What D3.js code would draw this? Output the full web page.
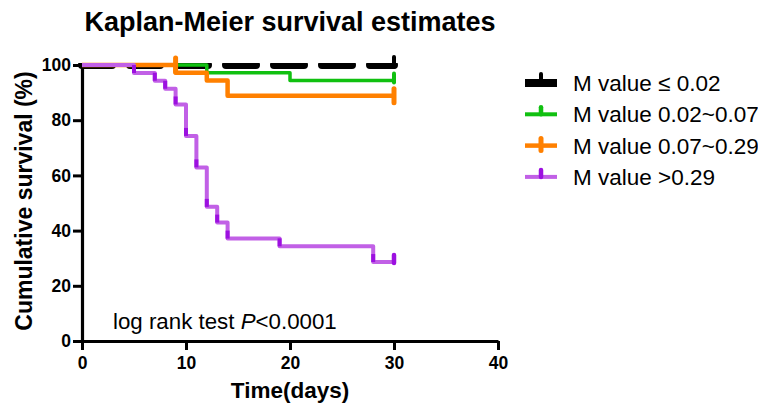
<!DOCTYPE html>
<html>
<head>
<meta charset="utf-8">
<script src="https://cdn.jsdelivr.net/npm/d3@7"></script>
<style>
  html, body { margin: 0; padding: 0; background: #fff; }
  svg { display: block; font-family: "Liberation Sans", Arial, sans-serif; }
</style>
</head>
<body>
<div id="chart"></div>
<script>
// Kaplan-Meier curves, survival in %
const groupNames = ['M value ≤ 0.02', 'M value 0.02~0.07', 'M value 0.07~0.29', 'M value >0.29'];

const blackTimes = [0, 30];
const blackSurv = [100, 100];
const blackCensor = [30];

const greenTimes = [0, 12, 20, 30];
const greenSurv = [100, 97.2, 94.4, 94.4];
const greenCensor = [30];

const orangeTimes = [0, 9, 12, 14, 30];
const orangeSurv = [100, 97.2, 94.4, 88.9, 88.9];
const orangeCensor = [9, 30];

const purpleTimes = [0, 5, 7, 8, 9, 10, 11, 12, 13, 14, 19, 28, 30];
const purpleSurv = [100, 97.1, 94.3, 91.4, 85.7, 74.3, 62.9, 48.6, 42.9, 37.1, 34.3, 28.6, 28.6];
const purpleCensor = [30];

const xTicks = [0, 10, 20, 30, 40];
const yTicks = [0, 20, 40, 60, 80, 100];

const width = 758, height = 404;
const svg = d3.select('#chart').append('svg')
    .attr('width', width)
    .attr('height', height);

const x = d3.scaleLinear().domain([0, 40]).range([82, 498]);
const y = d3.scaleLinear().domain([0, 100]).range([341, 65]);

// title
svg.append('text')
    .attr('x', 290).attr('y', 31)
    .attr('text-anchor', 'middle')
    .attr('font-size', '27px').attr('font-weight', 'bold')
    .text('Kaplan-Meier survival estimates');

// axes
const yAxis = svg.append('g')
    .attr('transform', `translate(${x(0)},0)`)
    .call(d3.axisLeft(y).tickValues(yTicks).tickSize(9).tickSizeOuter(0).tickPadding(2));
const xAxis = svg.append('g')
    .attr('transform', `translate(0,${y(0)})`)
    .call(d3.axisBottom(x).tickValues(xTicks).tickSize(9).tickSizeOuter(0).tickPadding(7));

[xAxis, yAxis].forEach(ax => {
    ax.select('.domain').attr('stroke', '#000').attr('stroke-width', 3.2);
    ax.selectAll('.tick line').attr('stroke', '#000').attr('stroke-width', 3);
    ax.selectAll('.tick text')
        .attr('fill', '#000')
        .attr('font-size', '17.5px')
        .attr('font-weight', 'bold')
        .attr('font-family', '"Liberation Sans", Arial, sans-serif');
});

svg.append('text')
    .attr('x', 290).attr('y', 398)
    .attr('text-anchor', 'middle')
    .attr('font-size', '22.5px').attr('font-weight', 'bold')
    .text('Time(days)');

svg.append('text')
    .attr('transform', 'translate(32,201) rotate(-90)')
    .attr('text-anchor', 'middle')
    .attr('font-size', '23px').attr('font-weight', 'bold')
    .text('Cumulative survival (%)');

// log rank annotation
const lr = svg.append('text')
    .attr('x', 113).attr('y', 329)
    .attr('font-size', '22.3px');
lr.append('tspan').text('log rank test ');
lr.append('tspan').attr('font-style', 'italic').text('P');
lr.append('tspan').text('<0.0001');

// step line generator
const stepLine = d3.line()
    .x(d => x(d[0]))
    .y(d => y(d[1]))
    .curve(d3.curveStepAfter);

const zip = (t, s) => t.map((v, i) => [v, s[i]]);
const levelAt = (t, s, time) => {
    let v = s[0];
    t.forEach((tt, i) => { if (tt <= time) v = s[i]; });
    return v;
};

// black: thick dashed, clipped flat on top
svg.append('clipPath').attr('id', 'blackClip')
    .append('rect')
    .attr('x', 0).attr('y', y(100) - 2)
    .attr('width', width).attr('height', height);

svg.append('path')
    .datum(zip(blackTimes, blackSurv))
    .attr('clip-path', 'url(#blackClip)')
    .attr('d', stepLine)
    .attr('fill', 'none')
    .attr('stroke', '#000')
    .attr('stroke-width', 8)
    .attr('stroke-linecap', 'round')
    .attr('stroke-dasharray', '30 18');

blackCensor.forEach(t => {
    const v = levelAt(blackTimes, blackSurv, t);
    svg.append('line')
        .attr('x1', x(t)).attr('x2', x(t))
        .attr('y1', y(v) - 8).attr('y2', y(v) + 2)
        .attr('stroke', '#000').attr('stroke-width', 4).attr('stroke-linecap', 'round');
});

// coloured groups
const groups = [
    { t: greenTimes, s: greenSurv, c: greenCensor, color: '#10c010', w: 3.5, tickUp: 7, tickDown: 2 },
    { t: orangeTimes, s: orangeSurv, c: orangeCensor, color: '#ff8000', w: 4.5, tickUp: 7, tickDown: 7 },
    { t: purpleTimes, s: purpleSurv, c: purpleCensor, color: '#c160e6', w: 4, tickUp: 7, tickDown: 1 }
];

groups.forEach(g => {
    svg.append('path')
        .datum(zip(g.t, g.s))
        .attr('d', stepLine)
        .attr('fill', 'none')
        .attr('stroke', g.color)
        .attr('stroke-width', g.w)
        .attr('stroke-linejoin', 'round');
    g.c.forEach(t => {
        const v = levelAt(g.t, g.s, t - 1e-9);
        svg.append('line')
            .attr('x1', x(t)).attr('x2', x(t))
            .attr('y1', y(v) - g.tickUp).attr('y2', y(v) + g.tickDown)
            .attr('stroke', g.color === '#c160e6' ? '#9c10e0' : g.color)
            .attr('stroke-width', g.w + 0.5)
            .attr('stroke-linecap', 'round');
    });
});

// darker marks at the foot of each purple drop
purpleTimes.slice(1, -1).forEach((t, i) => {
    const v = purpleSurv[i + 1];
    svg.append('line')
        .attr('x1', x(t)).attr('x2', x(t))
        .attr('y1', y(v) - 8).attr('y2', y(v))
        .attr('stroke', '#9c10e0').attr('stroke-width', 4);
});

// legend
const legendColors = ['#000', '#10c010', '#ff8000', '#c160e6'];
const legend = svg.append('g');
groupNames.forEach((name, i) => {
    const cy = 83 + i * 31.3;
    const row = legend.append('g');
    if (i === 0) {
        row.append('rect')
            .attr('x', 525).attr('y', cy - 4)
            .attr('width', 32).attr('height', 8)
            .attr('fill', '#000');
        row.append('line')
            .attr('x1', 541).attr('x2', 541).attr('y1', cy - 9).attr('y2', cy)
            .attr('stroke', '#000').attr('stroke-width', 4).attr('stroke-linecap', 'round');
    } else {
        const w = i === 2 ? 4.5 : 4;
        row.append('line')
            .attr('x1', 525).attr('x2', 557).attr('y1', cy).attr('y2', cy)
            .attr('stroke', legendColors[i]).attr('stroke-width', w);
        row.append('line')
            .attr('x1', 541).attr('x2', 541)
            .attr('y1', cy - 7).attr('y2', i === 2 ? cy + 5 : cy)
            .attr('stroke', i === 3 ? '#9c10e0' : legendColors[i])
            .attr('stroke-width', w + 0.5).attr('stroke-linecap', 'round');
    }
    row.append('text')
        .attr('x', 573).attr('y', cy + 8)
        .attr('font-size', '22.5px')
        .text(name);
});
</script>
</body>
</html>
